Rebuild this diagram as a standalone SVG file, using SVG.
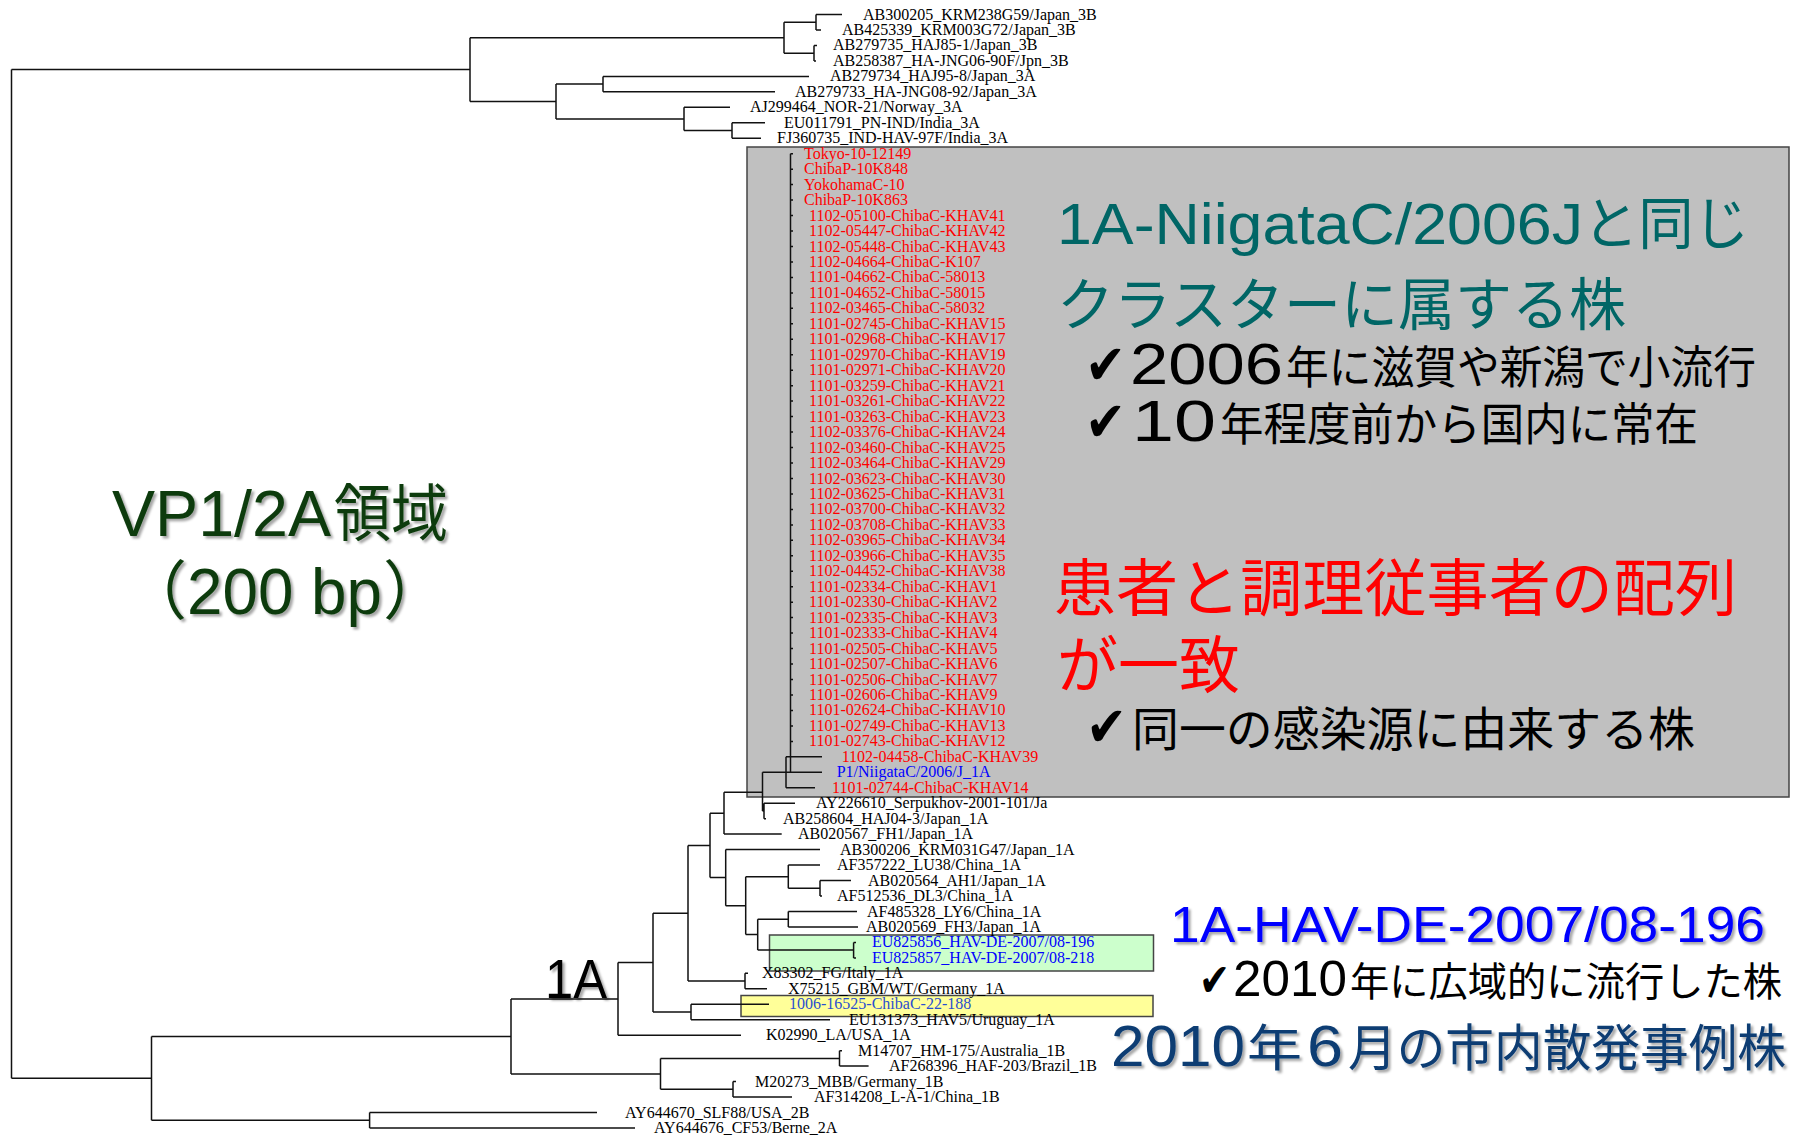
<svg xmlns="http://www.w3.org/2000/svg" width="1794" height="1135" viewBox="0 0 1794 1135">
<defs>
<style>
.t{stroke:#111;stroke-width:1.5;fill:none}
.lb{font-family:"Liberation Serif","Times New Roman",serif;font-size:16px;fill:#000}
.r{fill:#ff0000}
.bl{fill:#0000ff}
.sans{font-family:"Liberation Sans",Arial,"Noto Sans CJK JP",sans-serif}
.cjk{font-family:"Noto Sans CJK JP","Noto Sans CJK SC",sans-serif}
.chk{font-family:"DejaVu Sans",sans-serif;fill:#000}
.box{stroke:#444;stroke-width:1.5}
</style>
<filter id="sh" x="-10%" y="-40%" width="130%" height="200%">
<feDropShadow dx="2.5" dy="2.5" stdDeviation="1" flood-color="#000" flood-opacity="0.35"/>
</filter>
</defs>
<rect width="1794" height="1135" fill="#fff"/>

<g id="highlight-boxes">
<rect id="box-cluster" class="box" x="747" y="147" width="1042" height="650" fill="#c0c0c0"/>
<rect id="box-de" class="box" x="769.5" y="935" width="384" height="36" fill="#ccffcc"/>
<rect id="box-chiba" class="box" x="741" y="995.5" width="412" height="21" fill="#ffff99"/>
</g>

<g id="connectors" class="t">
<path d="M11.5,69.4 V1078.3 M11.5,69.4 H470 M11.5,1078.3 H151.5
M470,37.7 V101.5 M470,37.7 H784 M470,101.5 H556
M784,22.25 V53.15 M784,22.25 H816 M784,53.15 H814
M816,14.5 V30 M816,14.5 H842 M816,30 H821
M814,45.4 V60.9 M814,45.4 H817 M814,60.9 H816
M556,84.1 V118.9 M556,84.1 H603 M556,118.9 H684
M603,76.4 V91.8 M603,76.4 H809 M603,91.8 H775
M684,107.3 V130.5 M684,107.3 H730 M684,130.5 H732
M732,122.8 V138.2 M732,122.8 H765 M732,138.2 H761"/>
<path d="M151.5,1036.4 V1120.3 M151.5,1036.4 H511 M151.5,1120.3 H369.6
M369.6,1112.5 V1128 M369.6,1112.5 H597 M369.6,1128 H635
M511,998.9 V1073.9 M511,998.9 H618 M511,1073.9 H660.5
M660.5,1058.4 V1089.3 M660.5,1058.4 H839.5 M660.5,1089.3 H733
M839.5,1050.7 V1066.1 M839.5,1050.7 H842 M839.5,1066.1 H868.6
M733,1081.6 V1097 M733,1081.6 H736 M733,1097 H792
M618,962.6 V1035.2 M618,962.6 H653 M618,1035.2 H741
M653,913.2 V1012 M653,913.2 H688 M653,1012 H691
M691,1004.3 V1019.7 M691,1004.3 H769 M691,1019.7 H830
M688,845.4 V981 M688,845.4 H710 M688,981 H745
M745,973.3 V988.8 M745,973.3 H748 M745,988.8 H767
M710,813.2 V877.6 M710,813.2 H724 M710,877.6 H725.7
M724,792.3 V834.1 M724,792.3 H762.5 M724,834.1 H781.7
M762.5,772.3 V811 M762.5,772.3 H786 M762.5,811 H764
M764,803.2 V818.7 M764,803.2 H795 M764,818.7 H766
M786,756.8 V787.8 M786,756.8 H822 M786,787.8 H815 M786,772.3 H822
M725.7,849.6 V905.7 M725.7,849.6 H820 M725.7,905.7 H745.7
M745.7,876.7 V934.6 M745.7,876.7 H788.3 M745.7,934.6 H757.7
M788.3,865.1 V888.3 M788.3,865.1 H820 M788.3,888.3 H820
M820,880.5 V896 M820,880.5 H851 M820,896 H822
M757.7,919.2 V950.1 M757.7,919.2 H788.3 M757.7,950.1 H853.6
M788.3,911.5 V926.9 M788.3,911.5 H857 M788.3,926.9 H858
M853.6,942.4 V957.9 M853.6,942.4 H856 M853.6,957.9 H856"/>
<path d="M790.5,153.7 V772.3
M790.5,153.7 h2.5 M790.5,169.2 h2.5 M790.5,184.6 h2.5 M790.5,200.1 h2.5 M790.5,215.5 h2.5 M790.5,231 h2.5 M790.5,246.5 h2.5 M790.5,261.9 h2.5 M790.5,277.4 h2.5 M790.5,292.9 h2.5
M790.5,308.3 h2.5 M790.5,323.8 h2.5 M790.5,339.3 h2.5 M790.5,354.7 h2.5 M790.5,370.2 h2.5 M790.5,385.7 h2.5 M790.5,401.1 h2.5 M790.5,416.6 h2.5 M790.5,432.1 h2.5 M790.5,447.5 h2.5
M790.5,463 h2.5 M790.5,478.5 h2.5 M790.5,493.9 h2.5 M790.5,509.4 h2.5 M790.5,524.9 h2.5 M790.5,540.3 h2.5 M790.5,555.8 h2.5 M790.5,571.2 h2.5 M790.5,586.7 h2.5 M790.5,602.2 h2.5
M790.5,617.6 h2.5 M790.5,633.1 h2.5 M790.5,648.6 h2.5 M790.5,664 h2.5 M790.5,679.5 h2.5 M790.5,695 h2.5 M790.5,710.4 h2.5 M790.5,725.9 h2.5 M790.5,741.4 h2.5"/>
</g>

<g id="leaves" class="lb">
<g id="leaf-00"><text x="863" y="19.5">AB300205_KRM238G59/Japan_3B</text></g>
<g id="leaf-01"><text x="842" y="35">AB425339_KRM003G72/Japan_3B</text></g>
<g id="leaf-02"><text x="833" y="50.4">AB279735_HAJ85-1/Japan_3B</text></g>
<g id="leaf-03"><text x="833" y="65.9">AB258387_HA-JNG06-90F/Jpn_3B</text></g>
<g id="leaf-04"><text x="830" y="81.4">AB279734_HAJ95-8/Japan_3A</text></g>
<g id="leaf-05"><text x="795" y="96.8">AB279733_HA-JNG08-92/Japan_3A</text></g>
<g id="leaf-06"><text x="750" y="112.3">AJ299464_NOR-21/Norway_3A</text></g>
<g id="leaf-07"><text x="784" y="127.8">EU011791_PN-IND/India_3A</text></g>
<g id="leaf-08"><text x="777" y="143.2">FJ360735_IND-HAV-97F/India_3A</text></g>
<g id="leaf-09"><text class="r" x="804" y="158.7">Tokyo-10-12149</text></g>
<g id="leaf-10"><text class="r" x="804" y="174.2">ChibaP-10K848</text></g>
<g id="leaf-11"><text class="r" x="804" y="189.6">YokohamaC-10</text></g>
<g id="leaf-12"><text class="r" x="804" y="205.1">ChibaP-10K863</text></g>
<g id="leaf-13"><text class="r" x="809" y="220.5">1102-05100-ChibaC-KHAV41</text></g>
<g id="leaf-14"><text class="r" x="809" y="236">1102-05447-ChibaC-KHAV42</text></g>
<g id="leaf-15"><text class="r" x="809" y="251.5">1102-05448-ChibaC-KHAV43</text></g>
<g id="leaf-16"><text class="r" x="809" y="266.9">1102-04664-ChibaC-K107</text></g>
<g id="leaf-17"><text class="r" x="809" y="282.4">1101-04662-ChibaC-58013</text></g>
<g id="leaf-18"><text class="r" x="809" y="297.9">1101-04652-ChibaC-58015</text></g>
<g id="leaf-19"><text class="r" x="809" y="313.3">1102-03465-ChibaC-58032</text></g>
<g id="leaf-20"><text class="r" x="809" y="328.8">1101-02745-ChibaC-KHAV15</text></g>
<g id="leaf-21"><text class="r" x="809" y="344.3">1101-02968-ChibaC-KHAV17</text></g>
<g id="leaf-22"><text class="r" x="809" y="359.7">1101-02970-ChibaC-KHAV19</text></g>
<g id="leaf-23"><text class="r" x="809" y="375.2">1101-02971-ChibaC-KHAV20</text></g>
<g id="leaf-24"><text class="r" x="809" y="390.7">1101-03259-ChibaC-KHAV21</text></g>
<g id="leaf-25"><text class="r" x="809" y="406.1">1101-03261-ChibaC-KHAV22</text></g>
<g id="leaf-26"><text class="r" x="809" y="421.6">1101-03263-ChibaC-KHAV23</text></g>
<g id="leaf-27"><text class="r" x="809" y="437.1">1102-03376-ChibaC-KHAV24</text></g>
<g id="leaf-28"><text class="r" x="809" y="452.5">1102-03460-ChibaC-KHAV25</text></g>
<g id="leaf-29"><text class="r" x="809" y="468">1102-03464-ChibaC-KHAV29</text></g>
<g id="leaf-30"><text class="r" x="809" y="483.5">1102-03623-ChibaC-KHAV30</text></g>
<g id="leaf-31"><text class="r" x="809" y="498.9">1102-03625-ChibaC-KHAV31</text></g>
<g id="leaf-32"><text class="r" x="809" y="514.4">1102-03700-ChibaC-KHAV32</text></g>
<g id="leaf-33"><text class="r" x="809" y="529.9">1102-03708-ChibaC-KHAV33</text></g>
<g id="leaf-34"><text class="r" x="809" y="545.3">1102-03965-ChibaC-KHAV34</text></g>
<g id="leaf-35"><text class="r" x="809" y="560.8">1102-03966-ChibaC-KHAV35</text></g>
<g id="leaf-36"><text class="r" x="809" y="576.2">1102-04452-ChibaC-KHAV38</text></g>
<g id="leaf-37"><text class="r" x="809" y="591.7">1101-02334-ChibaC-KHAV1</text></g>
<g id="leaf-38"><text class="r" x="809" y="607.2">1101-02330-ChibaC-KHAV2</text></g>
<g id="leaf-39"><text class="r" x="809" y="622.6">1101-02335-ChibaC-KHAV3</text></g>
<g id="leaf-40"><text class="r" x="809" y="638.1">1101-02333-ChibaC-KHAV4</text></g>
<g id="leaf-41"><text class="r" x="809" y="653.6">1101-02505-ChibaC-KHAV5</text></g>
<g id="leaf-42"><text class="r" x="809" y="669">1101-02507-ChibaC-KHAV6</text></g>
<g id="leaf-43"><text class="r" x="809" y="684.5">1101-02506-ChibaC-KHAV7</text></g>
<g id="leaf-44"><text class="r" x="809" y="700">1101-02606-ChibaC-KHAV9</text></g>
<g id="leaf-45"><text class="r" x="809" y="715.4">1101-02624-ChibaC-KHAV10</text></g>
<g id="leaf-46"><text class="r" x="809" y="730.9">1101-02749-ChibaC-KHAV13</text></g>
<g id="leaf-47"><text class="r" x="809" y="746.4">1101-02743-ChibaC-KHAV12</text></g>
<g id="leaf-48"><text class="r" x="841.7" y="761.8">1102-04458-ChibaC-KHAV39</text></g>
<g id="leaf-49"><text class="bl" x="836.7" y="777.3">P1/NiigataC/2006/J_1A</text></g>
<g id="leaf-50"><text class="r" x="832" y="792.8">1101-02744-ChibaC-KHAV14</text></g>
<g id="leaf-51"><text x="816" y="808.2">AY226610_Serpukhov-2001-101/Ja</text></g>
<g id="leaf-52"><text x="783" y="823.7">AB258604_HAJ04-3/Japan_1A</text></g>
<g id="leaf-53"><text x="798" y="839.1">AB020567_FH1/Japan_1A</text></g>
<g id="leaf-54"><text x="840" y="854.6">AB300206_KRM031G47/Japan_1A</text></g>
<g id="leaf-55"><text x="837" y="870.1">AF357222_LU38/China_1A</text></g>
<g id="leaf-56"><text x="868" y="885.5">AB020564_AH1/Japan_1A</text></g>
<g id="leaf-57"><text x="837" y="901">AF512536_DL3/China_1A</text></g>
<g id="leaf-58"><text x="867" y="916.5">AF485328_LY6/China_1A</text></g>
<g id="leaf-59"><text x="866" y="931.9">AB020569_FH3/Japan_1A</text></g>
<g id="leaf-60"><text class="bl" x="872" y="947.4">EU825856_HAV-DE-2007/08-196</text></g>
<g id="leaf-61"><text class="bl" x="872" y="962.9">EU825857_HAV-DE-2007/08-218</text></g>
<g id="leaf-62"><text x="762" y="978.3">X83302_FG/Italy_1A</text></g>
<g id="leaf-63"><text x="788" y="993.8">X75215_GBM/WT/Germany_1A</text></g>
<g id="leaf-64"><text x="789" y="1009.3" fill="#2a4fd0">1006-16525-ChibaC-22-188</text></g>
<g id="leaf-65"><text x="849" y="1024.7">EU131373_HAV5/Uruguay_1A</text></g>
<g id="leaf-66"><text x="766" y="1040.2">K02990_LA/USA_1A</text></g>
<g id="leaf-67"><text x="858" y="1055.7">M14707_HM-175/Australia_1B</text></g>
<g id="leaf-68"><text x="889" y="1071.1">AF268396_HAF-203/Brazil_1B</text></g>
<g id="leaf-69"><text x="755" y="1086.6">M20273_MBB/Germany_1B</text></g>
<g id="leaf-70"><text x="814" y="1102">AF314208_L-A-1/China_1B</text></g>
<g id="leaf-71"><text x="625" y="1117.5">AY644670_SLF88/USA_2B</text></g>
<g id="leaf-72"><text x="654" y="1133">AY644676_CF53/Berne_2A</text></g>
</g>

<g id="title-region" filter="url(#sh)" fill="#0a3a0a">
<text class="sans" x="112" y="536" font-size="64" textLength="219" lengthAdjust="spacingAndGlyphs">VP1/2A</text>
<text class="cjk" x="334" y="536" font-size="62" textLength="114" lengthAdjust="spacingAndGlyphs">領域</text>
<text class="cjk" x="123" y="614" font-size="64">（</text>
<text class="sans" x="187" y="614" font-size="64" textLength="195" lengthAdjust="spacingAndGlyphs">200 bp</text>
<text class="cjk" x="383" y="614" font-size="64">）</text>
</g>

<g id="label-1A" filter="url(#sh)">
<text class="sans" x="545" y="998" font-size="56" textLength="62" lengthAdjust="spacingAndGlyphs" fill="#000">1A</text>
</g>

<g id="note-cluster" fill="#006666">
<text class="sans" x="1057" y="244" font-size="57" textLength="526" lengthAdjust="spacingAndGlyphs">1A-NiigataC/2006J</text>
<text class="cjk" x="1583" y="244" font-size="57" textLength="166" lengthAdjust="spacingAndGlyphs">と同じ</text>
<text class="cjk" x="1057" y="325" font-size="57" textLength="569" lengthAdjust="spacingAndGlyphs">クラスターに属する株</text>
</g>

<g id="note-bullets-1" fill="#000">
<text class="chk" x="1085" y="384" font-size="56" textLength="41" lengthAdjust="spacingAndGlyphs">✔</text>
<text class="sans" x="1130" y="384" font-size="58" textLength="153" lengthAdjust="spacingAndGlyphs">2006</text>
<text class="cjk" x="1286" y="384" font-size="45" textLength="470" lengthAdjust="spacingAndGlyphs">年に滋賀や新潟で小流行</text>
<text class="chk" x="1085" y="441" font-size="56" textLength="41" lengthAdjust="spacingAndGlyphs">✔</text>
<text class="sans" x="1132" y="441" font-size="58" textLength="84" lengthAdjust="spacingAndGlyphs">10</text>
<text class="cjk" x="1220" y="441" font-size="45" textLength="478" lengthAdjust="spacingAndGlyphs">年程度前から国内に常在</text>
</g>

<g id="note-match" fill="#ff0000">
<text class="cjk" x="1054" y="611" font-size="62" textLength="683" lengthAdjust="spacingAndGlyphs">患者と調理従事者の配列</text>
<text class="cjk" x="1057" y="688" font-size="62" textLength="183" lengthAdjust="spacingAndGlyphs">が一致</text>
</g>

<g id="note-bullet-2" fill="#000">
<text class="chk" x="1086" y="746" font-size="56" textLength="41" lengthAdjust="spacingAndGlyphs">✔</text>
<text class="cjk" x="1132" y="746" font-size="47" textLength="563" lengthAdjust="spacingAndGlyphs">同一の感染源に由来する株</text>
</g>

<g id="note-de">
<g filter="url(#sh)">
<text class="sans" x="1170" y="942" font-size="50" textLength="595" lengthAdjust="spacingAndGlyphs" fill="#0000ff">1A-HAV-DE-2007/08-196</text>
</g>
<text class="chk" x="1199" y="996" font-size="46" textLength="31" lengthAdjust="spacingAndGlyphs">✔</text>
<text class="sans" x="1233" y="996" font-size="50" textLength="114" lengthAdjust="spacingAndGlyphs" fill="#000">2010</text>
<text class="cjk" x="1350" y="996" font-size="40" textLength="432" lengthAdjust="spacingAndGlyphs" fill="#000">年に広域的に流行した株</text>
</g>

<g id="note-chiba" fill="#0d3c73" filter="url(#sh)">
<text class="sans" x="1111" y="1066" font-size="57" textLength="134" lengthAdjust="spacingAndGlyphs">2010</text>
<text class="cjk" x="1247" y="1066" font-size="50" textLength="55" lengthAdjust="spacingAndGlyphs">年</text>
<text class="sans" x="1307" y="1066" font-size="57" textLength="36" lengthAdjust="spacingAndGlyphs">6</text>
<text class="cjk" x="1348" y="1066" font-size="50" textLength="438" lengthAdjust="spacingAndGlyphs">月の市内散発事例株</text>
</g>
</svg>
